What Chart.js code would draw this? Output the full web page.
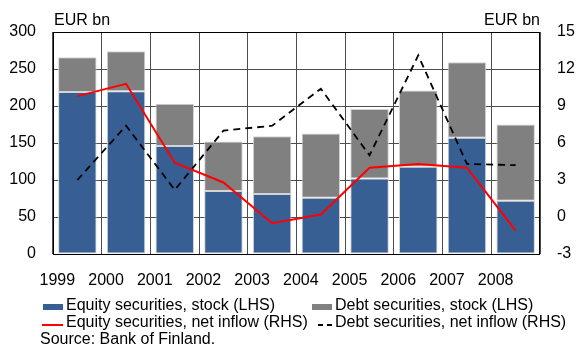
<!DOCTYPE html>
<html>
<head>
<meta charset="utf-8">
<script src="https://cdn.jsdelivr.net/npm/chart.js@4.4.0/dist/chart.umd.min.js"></script>
<style>
  html, body { margin: 0; padding: 0; background: #fff; }
  #wrap { position: relative; width: 578px; height: 352px; font-family: "Liberation Sans", Arial, sans-serif; color: #000; }
  #wrap canvas { position: absolute; left: 0; top: 0; }
  .unit { position: absolute; top: 11px; font-size: 16px; line-height: 18px; }
  .lg { position: absolute; font-size: 16px; line-height: 18px; white-space: nowrap; }
  .sw { position: absolute; }
</style>
</head>
<body>
<div id="wrap">
  <canvas id="chart" width="578" height="352"></canvas>
  <div class="unit" style="left:54px;">EUR bn</div>
  <div class="unit" style="right:38px;">EUR bn</div>

  <div class="sw" style="left:43px; top:304px; width:20px; height:6px; background:#385f93;"></div>
  <div class="lg" style="left:66px; top:296px;">Equity securities, stock (LHS)</div>
  <div class="sw" style="left:312px; top:304px; width:20px; height:6px; background:#808080;"></div>
  <div class="lg" style="left:335px; top:296px;">Debt securities, stock (LHS)</div>

  <div class="sw" style="left:42px; top:324px; width:21px; height:2px; background:#ff0000;"></div>
  <div class="lg" style="left:66px; top:313px;">Equity securities, net inflow (RHS)</div>
  <div class="sw" style="left:318px; top:324px; width:14px; height:2px; background:repeating-linear-gradient(to right, #000 0 5px, transparent 5px 9px);"></div>
  <div class="lg" style="left:335px; top:313px;">Debt securities, net inflow (RHS)</div>

  <div class="lg" style="left:40px; top:330px;">Source: Bank of Finland.</div>
</div>
<script>
  // Portfolio stocks (LHS, EUR bn) and net inflows (RHS, EUR bn), 1999-2008
  var years = ['1999', '2000', '2001', '2002', '2003', '2004', '2005', '2006', '2007', '2008'];
  var equityStock = [219, 220, 146, 85, 81, 76, 102, 118, 157, 72];
  var debtStock = [47, 54, 57, 67, 78, 87, 94, 103, 102, 103];
  var equityInflow = [9.8, 10.8, 4.4, 2.8, -0.5, 0.2, 4.0, 4.3, 4.0, -1.1];
  var debtInflow = [3.0, 7.4, 2.2, 7.0, 7.4, 10.4, 5.0, 13.1, 4.3, 4.2];
  var leftTicks = [0, 50, 100, 150, 200, 250, 300];
  var rightTicks = [-3, 0, 3, 6, 9, 12, 15];

  var tickFont = { family: 'Liberation Sans', size: 16 };
  var gridColor = '#4d4d4d';

  // plot frame (top/right/bottom/left) in black
  var framePlugin = {
    id: 'frame',
    afterDatasetsDraw: function (chart) {
      var a = chart.chartArea, ctx = chart.ctx;
      ctx.save();
      ctx.strokeStyle = '#000';
      ctx.lineWidth = 1;
      ctx.strokeRect(Math.round(a.left) + 0.5, Math.round(a.top) + 0.5,
        Math.round(a.right - a.left) - 1, Math.round(a.bottom - a.top));
      ctx.restore();
    }
  };

  Chart.defaults.font.family = 'Liberation Sans';
  Chart.defaults.color = '#000';

  new Chart(document.getElementById('chart'), {
    type: 'bar',
    data: {
      labels: years,
      datasets: [
        {
          label: 'Equity securities, net inflow (RHS)',
          type: 'line', data: equityInflow, yAxisID: 'y1',
          borderColor: '#ff0000', borderWidth: 2, pointRadius: 0, tension: 0, order: 1
        },
        {
          label: 'Debt securities, net inflow (RHS)',
          type: 'line', data: debtInflow, yAxisID: 'y1',
          borderColor: '#000', borderWidth: 1.8, borderDash: [7, 5], pointRadius: 0, tension: 0, order: 1
        },
        {
          label: 'Equity securities, stock (LHS)',
          data: equityStock, backgroundColor: '#385f93', borderColor: '#d4d4d4', borderWidth: 1,
          borderSkipped: false, categoryPercentage: 1, barPercentage: 0.79, order: 2
        },
        {
          label: 'Debt securities, stock (LHS)',
          data: debtStock, backgroundColor: '#808080', borderColor: '#d4d4d4', borderWidth: 1,
          borderSkipped: false, categoryPercentage: 1, barPercentage: 0.79, order: 2
        }
      ]
    },
    options: {
      responsive: false,
      devicePixelRatio: 1,
      animation: false,
      layout: { padding: { top: 32, left: 0, right: 0, bottom: 58 } },
      plugins: { legend: { display: false }, tooltip: { enabled: false } },
      scales: {
        x: {
          stacked: true,
          // year labels sit left of the bars, at a constant offset
          ticks: { font: tickFont, padding: 17, labelOffset: -20, autoSkip: false, maxRotation: 0 },
          grid: { offset: true, color: gridColor, drawTicks: false },
          border: { display: false },
          afterFit: function (s) { s.height = 40; }
        },
        y: {
          stacked: true, min: 0, max: 300,
          grid: { color: gridColor, drawTicks: false },
          border: { display: false },
          ticks: { font: tickFont, padding: 17, autoSkip: false },
          afterBuildTicks: function (s) { s.ticks = leftTicks.map(function (v) { return { value: v }; }); },
          afterFit: function (s) { s.width = 53; }
        },
        y1: {
          position: 'right', min: -3, max: 15,
          grid: { display: false, drawTicks: false },
          border: { display: false },
          ticks: { font: tickFont, padding: 17, autoSkip: false },
          afterBuildTicks: function (s) { s.ticks = rightTicks.map(function (v) { return { value: v }; }); },
          afterFit: function (s) { s.width = 38; }
        }
      }
    },
    plugins: [framePlugin]
  });
</script>
</body>
</html>
